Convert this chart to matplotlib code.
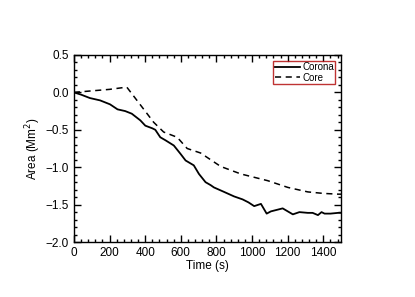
import matplotlib.pyplot as plt
from matplotlib.ticker import MultipleLocator

plt.rcParams['font.family'] = ['Liberation Sans', 'DejaVu Sans']

# Corona area (solid)
t_corona = [0, 40, 90, 147, 203, 245, 288, 325, 373, 401, 440, 457, 485, 514, 561,
            598, 627, 673, 702, 739, 768, 786, 843, 899, 947, 980, 1012, 1050, 1082,
            1106, 1172, 1229, 1266, 1313, 1340, 1370, 1390, 1407, 1440, 1483, 1500]
a_corona = [0.0, -0.03, -0.076, -0.107, -0.16, -0.227, -0.25, -0.285, -0.374, -0.445,
            -0.48, -0.5, -0.6, -0.64, -0.71, -0.82, -0.91, -0.975, -1.09, -1.2,
            -1.24, -1.27, -1.33, -1.39, -1.43, -1.47, -1.52, -1.49, -1.62, -1.59,
            -1.55, -1.63, -1.60, -1.61, -1.61, -1.64, -1.60, -1.62, -1.62, -1.61,
            -1.61]

# Core area (dashed)
t_core = [0, 100, 200, 297, 354, 448, 504, 580, 636, 711, 824, 937, 1088, 1201,
          1313, 1400, 1483, 1500]
a_core = [0.0, 0.02, 0.04, 0.07, -0.107, -0.40, -0.53, -0.60, -0.75, -0.81, -0.99,
          -1.09, -1.18, -1.27, -1.33, -1.35, -1.36, -1.36]

fig = plt.figure(figsize=(4.15, 2.97), dpi=100)
ax = fig.add_axes([0.178, 0.185, 0.644, 0.63])

ax.plot(t_corona, a_corona, color='black', lw=1.3, label='Corona')
ax.plot(t_core, a_core, color='black', lw=1.1, ls=(0, (4, 3)), label='Core')

ax.set_xlim(0, 1500)
ax.set_ylim(-2.0, 0.5)
ax.xaxis.set_major_locator(MultipleLocator(200))
ax.xaxis.set_minor_locator(MultipleLocator(40))
ax.yaxis.set_major_locator(MultipleLocator(0.5))
ax.yaxis.set_minor_locator(MultipleLocator(0.1))
ax.tick_params(which='both', direction='in', top=True, right=True, labelsize=8.5)
ax.tick_params(which='major', length=5, width=1)
ax.tick_params(which='minor', length=2.5, width=1)
for s in ax.spines.values():
    s.set_linewidth(1)

ax.set_xlabel('Time (s)', fontsize=8.5, labelpad=1)
ax.set_ylabel('Area (Mm$^2$)', fontsize=8.5, labelpad=2)

leg = ax.legend(loc='upper right', fontsize=7, frameon=True, fancybox=False,
                handlelength=2.6, handletextpad=0.2, borderpad=0.15,
                labelspacing=0.05, borderaxespad=0.6)
leg.get_frame().set_edgecolor('#b00000')
leg.get_frame().set_linewidth(1)

fig.savefig('out.png', dpi=100)
